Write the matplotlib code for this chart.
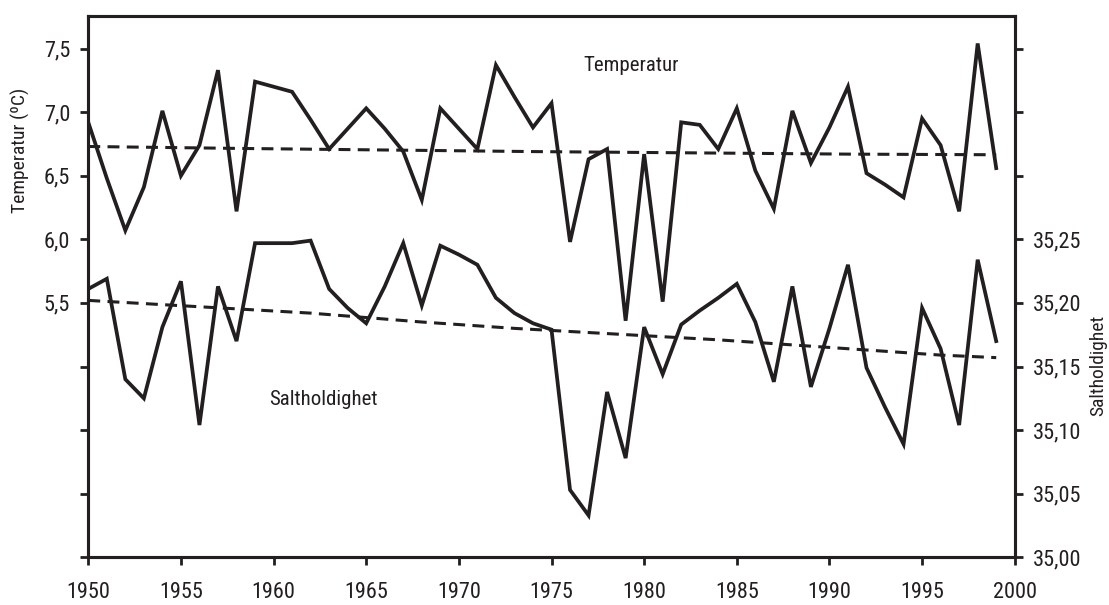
import matplotlib
matplotlib.use("Agg")
import matplotlib.pyplot as plt
from matplotlib.ticker import FixedLocator
from matplotlib import font_manager

# pick a narrow font if one is installed
family = ['Roboto', 'DejaVu Sans']
stretch = 'normal'
names = {f.name for f in font_manager.fontManager.ttflist}
for cand in ['Liberation Sans Narrow', 'Roboto Condensed', 'Open Sans Condensed', 'DejaVu Sans Condensed']:
    if cand in names:
        family = [cand, 'DejaVu Sans']
        break
else:
    if any(f.name == 'DejaVu Sans' and f.stretch == 'condensed' for f in font_manager.fontManager.ttflist):
        family = ['DejaVu Sans']
        stretch = 'condensed'
plt.rcParams['font.family'] = family
plt.rcParams['font.stretch'] = stretch

years = list(range(1950, 2000))
temperature = [6.92, 6.48, 6.07, 6.41, 7.01, 6.50, 6.74, 7.33, 6.22, 7.24,
               7.20, 7.16, 6.94, 6.71, 6.87, 7.03, 6.87, 6.69, 6.31, 7.03,
               6.87, 6.71, 7.37, 7.12, 6.88, 7.07, 5.98, 6.63, 6.71, 5.36,
               6.67, 5.51, 6.92, 6.90, 6.71, 7.03, 6.54, 6.24, 7.01, 6.60,
               6.88, 7.20, 6.52, 6.43, 6.33, 6.95, 6.74, 6.22, 7.54, 6.56]
salinity = [35.211, 35.219, 35.140, 35.125, 35.181, 35.217, 35.104, 35.213, 35.170, 35.247,
            35.247, 35.247, 35.249, 35.211, 35.196, 35.184, 35.213, 35.247, 35.198, 35.245,
            35.238, 35.230, 35.204, 35.192, 35.184, 35.179, 35.053, 35.033, 35.130, 35.078,
            35.181, 35.144, 35.183, 35.194, 35.204, 35.215, 35.185, 35.138, 35.213, 35.134,
            35.180, 35.230, 35.149, 35.118, 35.089, 35.196, 35.164, 35.104, 35.234, 35.170]

temp_trend_years = [1950, 1958, 1974, 1991, 1999]
temp_trend = [6.73, 6.715, 6.69, 6.67, 6.665]
sal_trend_years = [1950, 1962, 1968, 1973, 1984, 1996, 1999]
sal_trend = [35.202, 35.192, 35.185, 35.180, 35.171, 35.159, 35.157]

x_ticks = [1950, 1955, 1960, 1965, 1970, 1975, 1980, 1985, 1990, 1995, 2000]
left_ticks = [3.5, 4.0, 4.5, 5.0, 5.5, 6.0, 6.5, 7.0, 7.5]
left_labels = ['', '', '', '', '5,5', '6,0', '6,5', '7,0', '7,5']
right_ticks = [35.00, 35.05, 35.10, 35.15, 35.20, 35.25, 35.30, 35.35, 35.40]
right_labels = ['35,00', '35,05', '35,10', '35,15', '35,20', '35,25', '', '', '']

ink = '#231f20'
fig = plt.figure(figsize=(11.09, 6.05), dpi=100)
ax = fig.add_axes([0.0796, 0.0788, 0.8354, 0.8952])
ax2 = ax.twinx()

t_lo, t_hi = 3.5, 7.758
ax.set_xlim(1950, 2000)
ax.set_ylim(t_lo, t_hi)
ax2.set_ylim(35.0, 35.0 + (t_hi - t_lo) / 10.0)

ax.plot(years, temperature, color=ink, lw=2.7, solid_joinstyle='miter')
ax.plot(temp_trend_years, temp_trend, color=ink, lw=2.2, dashes=(3.9, 2.4))
ax2.plot(years, salinity, color=ink, lw=2.7, solid_joinstyle='miter')
ax2.plot(sal_trend_years, sal_trend, color=ink, lw=2.2, dashes=(3.9, 2.4))

ax.xaxis.set_major_locator(FixedLocator(x_ticks))
ax.set_xticklabels([str(v) for v in x_ticks])
ax.yaxis.set_major_locator(FixedLocator(left_ticks))
ax.set_yticklabels(left_labels)
ax2.yaxis.set_major_locator(FixedLocator(right_ticks))
ax2.set_yticklabels(right_labels)

for a in (ax, ax2):
    for s in a.spines.values():
        s.set_linewidth(2.2)
        s.set_color(ink)
ax.tick_params(axis='x', direction='out', length=6, width=2.0, color=ink,
               labelsize=16, labelcolor=ink, pad=12)
ax.tick_params(axis='y', direction='out', length=6, width=2.0, color=ink,
               labelsize=16, labelcolor=ink, pad=7)
ax2.tick_params(axis='y', direction='out', length=6, width=2.0, color=ink,
                labelsize=16, labelcolor=ink, pad=7)

ax.text(1979.3, 7.37, 'Temperatur', fontsize=15, color=ink, ha='center', va='center')
ax.text(1962.7, 4.737, 'Saltholdighet', fontsize=15, color=ink, ha='center', va='center')

fig.text(20 / 1109, 1 - 150 / 605, 'Temperatur (ºC)', rotation=90, fontsize=14,
         color=ink, ha='center', va='center')
fig.text(1098 / 1109, 1 - 365 / 605, 'Saltholdighet', rotation=90, fontsize=14,
         color=ink, ha='center', va='center')

fig.savefig('out.png', dpi=100)
